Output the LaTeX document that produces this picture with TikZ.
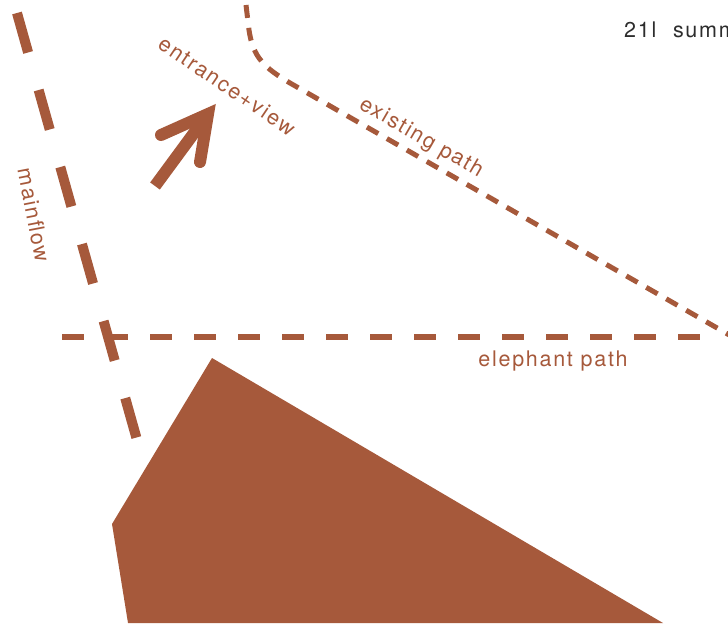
\documentclass[tikz,border=0pt]{standalone}
\usepackage{fontspec}
\setmainfont{TeX Gyre Heros}
\usepackage{xcolor}
\usetikzlibrary{calc}
\definecolor{Rust}{RGB}{166,89,59}
\definecolor{TitleGray}{RGB}{45,45,45}
\tikzset{
  lbl/.style={font=\fontsize{21.5}{25}\selectfont\addfontfeature{LetterSpace=8},text=Rust,inner sep=0pt},
  mainflowline/.style={draw=Rust,line width=10,dash pattern=on 41 off 39},
  elephantline/.style={draw=Rust,line width=6,dash pattern=on 22 off 22},
  existline/.style={draw=Rust,line width=5,dash pattern=on 13 off 10},
  arrowline/.style={draw=Rust,line width=12}
}

\begin{document}
\begin{tikzpicture}[x=1pt,y=-1pt]
\useasboundingbox(0,0)rectangle(728,626);
\clip(0,0)rectangle(728,626);

% paths
\coordinate(mfA)at(17,13);  \coordinate(mfB)at(139,447);
\coordinate(elA)at(62,337); \coordinate(elB)at(700,337);
\draw[elephantline](elA)--(elB);
\draw[mainflowline](mfA)--(mfB);
\draw[existline](246,5)--(249,30) .. controls (253,58) and (265,68) .. (290,83)--(745,344);

% building
\fill[Rust](212,358)--(663,623)--(128,623)--(112,524)--cycle;

% entrance arrow
\coordinate(tail)at(155,186); \coordinate(tip)at(208,114);
\coordinate(larm)at(161,135); \coordinate(rarm)at(200,162);
\draw[arrowline](tail)--(tip);
\draw[arrowline,line cap=round,line join=miter](larm)--(tip)--(rarm);

% labels
\node[lbl,rotate=-34](entrlbl)at(227,86){entrance+view};
\node[lbl,rotate=-30](exlbl)at(421,138){existing path};
\node[lbl,rotate=-79](mainlbl)at(34,215){mainflow};
\node[lbl](elelbl)at(553,361){elephant path};
\node[lbl,text=TitleGray,anchor=base west](title)at(624,38){21l\hspace{9pt} summer};
\end{tikzpicture}
\end{document}
